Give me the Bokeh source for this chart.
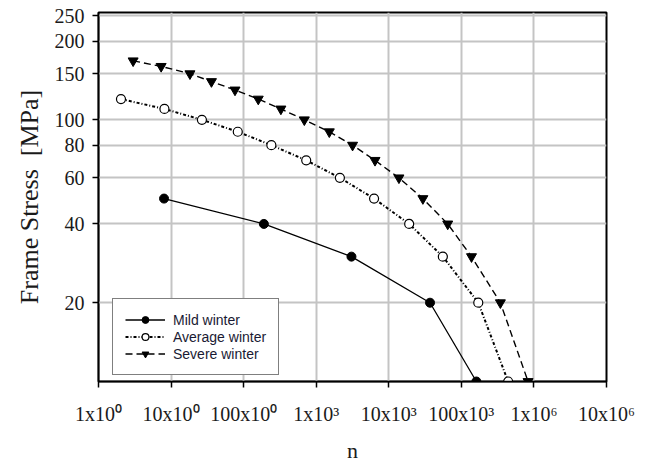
from bokeh.plotting import figure
from bokeh.models import FixedTicker, Legend, LegendItem, Range1d
from bokeh.embed import file_html
from bokeh.resources import INLINE

# ---- data ----
mild_n = [8, 190, 3060, 37000, 161000]
mild_s = [50, 40, 30, 20, 10]

avg_n = [2.04, 8.1, 26.6, 83, 241, 728, 2120, 6270, 19100, 55600, 171000, 441000]
avg_s = [120, 110, 100, 90, 80, 70, 60, 50, 40, 30, 20, 10]

sev_n = [3.0, 7.3, 18.2, 36, 76, 159, 326, 686, 1515, 3170, 6460, 13800,
         29500, 64900, 138000, 345000, 830000]
sev_s = [168, 160, 150, 140, 130, 120, 110, 100, 90, 80, 70, 60, 50, 40, 30, 20, 10]

x_ticks = [1, 10, 100, 1000, 10000, 100000, 1000000, 10000000]
x_tick_labels = ["1x10\u2070", "10x10\u2070", "100x10\u2070", "1x10\u00b3",
                 "10x10\u00b3", "100x10\u00b3", "1x10\u2076", "10x10\u2076"]
y_ticks = [20, 40, 60, 80, 100, 150, 200, 250]

SERIF = "Liberation Serif"

p = figure(x_axis_type="log", y_axis_type="log",
           x_range=Range1d(1, 1e7), y_range=Range1d(10, 257),
           frame_width=508, frame_height=369,
           min_border_left=98, min_border_right=46,
           min_border_top=12, min_border_bottom=83,
           output_backend="svg", toolbar_location=None,
           background_fill_color="white", border_fill_color="white")

p.outline_line_color = "black"
p.outline_line_width = 2

# axes
p.xaxis.ticker = FixedTicker(ticks=x_ticks, minor_ticks=[])
p.yaxis.ticker = FixedTicker(ticks=y_ticks, minor_ticks=[])
p.xaxis.major_label_overrides = {t: lab for t, lab in zip(x_ticks, x_tick_labels)}
for ax in (p.xaxis, p.yaxis):
    ax.axis_line_color = "black"
    ax.axis_line_width = 1.5
    ax.major_tick_line_color = "black"
    ax.major_tick_line_width = 1.5
    ax.major_tick_in = 0
    ax.major_tick_out = 6
    ax.minor_tick_line_color = None
    ax.major_label_text_font = SERIF
    ax.major_label_text_font_size = "20px"
    ax.major_label_text_color = "#1a1a1a"
    ax.axis_label_text_font = SERIF
    ax.axis_label_text_font_style = "normal"
    ax.axis_label_text_color = "#1a1a1a"

p.xaxis.major_label_standoff = 15
p.yaxis.major_label_standoff = 8
p.xaxis.axis_label = "n"
p.xaxis.axis_label_text_font_size = "22px"
p.xaxis.axis_label_standoff = 10
p.yaxis.axis_label = "Frame Stress \u00a0[MPa]"
p.yaxis.axis_label_text_font_size = "26px"
p.yaxis.axis_label_standoff = 8

p.xgrid.grid_line_color = "#c4c4c4"
p.ygrid.grid_line_color = "#c4c4c4"
p.xgrid.grid_line_width = 2
p.ygrid.grid_line_width = 2

# series
l1 = p.line(mild_n, mild_s, line_color="black", line_width=1.3)
m1 = p.scatter(mild_n, mild_s, marker="circle", size=9,
               fill_color="black", line_color="black")

l2 = p.line(avg_n, avg_s, line_color="black", line_width=2, line_dash="3 2 1 2")
m2 = p.scatter(avg_n, avg_s, marker="circle", size=9,
               fill_color="white", line_color="black", line_width=1.2)

l3 = p.line(sev_n, sev_s, line_color="black", line_width=1.4, line_dash="7 4")
m3 = p.scatter(sev_n, sev_s, marker="inverted_triangle", size=10,
               fill_color="black", line_color="black")

legend = Legend(items=[
    LegendItem(label="Mild winter", renderers=[l1, m1]),
    LegendItem(label="Average winter", renderers=[l2, m2]),
    LegendItem(label="Severe winter", renderers=[l3, m3]),
], location=(14, 6))
legend.margin = 0
legend.label_text_font = "Liberation Sans"
legend.label_text_font_size = "14px"
legend.label_text_color = "#1a1a33"
legend.glyph_width = 40
legend.glyph_height = 17
legend.label_height = 17
legend.spacing = 0
legend.padding = 12
legend.label_standoff = 8
legend.border_line_color = "black"
legend.border_line_width = 1.5
legend.background_fill_color = "white"
legend.background_fill_alpha = 1.0
p.add_layout(legend)

open("out.html", "w").write(file_html(p, INLINE))
